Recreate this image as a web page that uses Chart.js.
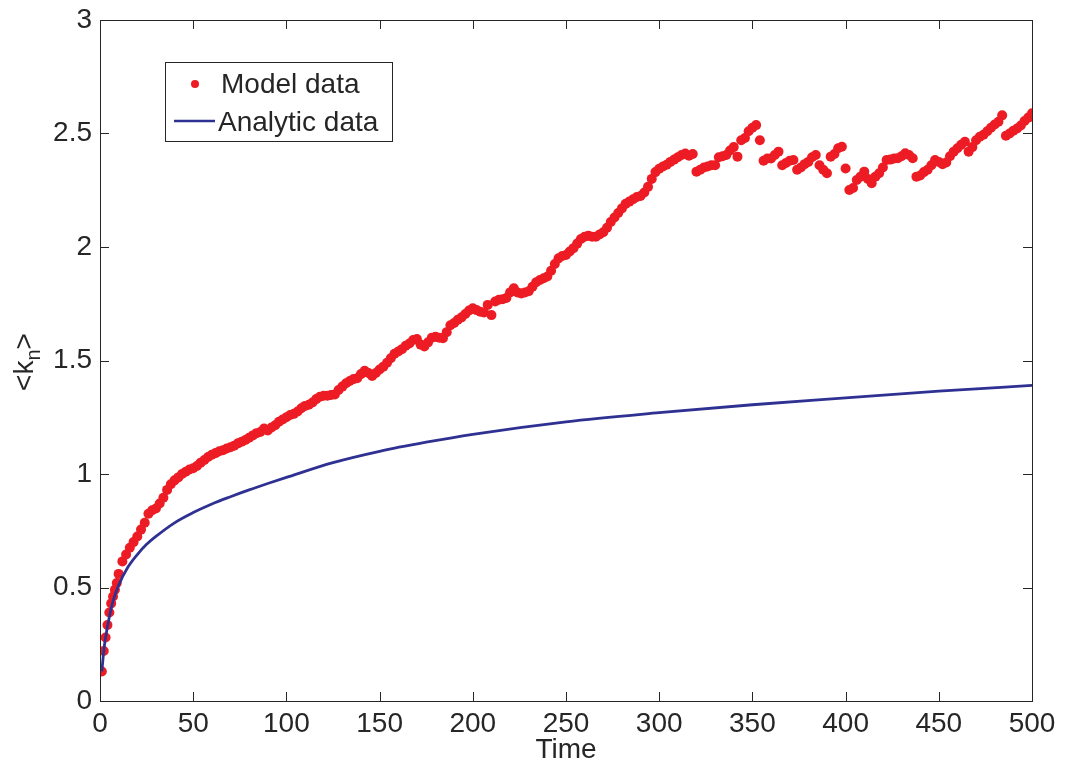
<!DOCTYPE html>
<html>
<head>
<meta charset="utf-8">
<title>Model vs analytic</title>
<script src="https://cdn.jsdelivr.net/npm/chart.js@4.4.1/dist/chart.umd.min.js"></script>
<style>
  html, body { margin: 0; padding: 0; background: #fff; }
  #wrap { width: 1067px; height: 767px; }
</style>
</head>
<body>
<div id="wrap"><canvas id="knChart"></canvas></div>
<script>
// model points (every unit up to 10, then every 2 units)
const modelTimes = [
  1, 2, 3, 4, 5, 6, 7, 8, 9, 10,
  12, 14, 16, 18, 20, 22, 24, 26, 28, 30, 32, 34, 36, 38, 40, 42, 44, 46, 48, 50,
  52, 54, 56, 58, 60, 62, 64, 66, 68, 70, 72, 74, 76, 78, 80, 82, 84, 86, 88, 90,
  92, 94, 96, 98, 100, 102, 104, 106, 108, 110, 112, 114, 116, 118, 120, 122, 124, 126, 128, 130,
  132, 134, 136, 138, 140, 142, 144, 146, 148, 150, 152, 154, 156, 158, 160, 162, 164, 166, 168, 170,
  172, 174, 176, 178, 180, 182, 184, 186, 188, 190, 192, 194, 196, 198, 200, 202, 204, 206, 208, 210,
  212, 214, 216, 218, 220, 222, 224, 226, 228, 230, 232, 234, 236, 238, 240, 242, 244, 246, 248, 250,
  252, 254, 256, 258, 260, 262, 264, 266, 268, 270, 272, 274, 276, 278, 280, 282, 284, 286, 288, 290,
  292, 294, 296, 298, 300, 302, 304, 306, 308, 310, 312, 314, 316, 318, 320, 322, 324, 326, 328, 330,
  332, 334, 336, 338, 340, 342, 344, 346, 348, 350, 352, 354, 356, 358, 360, 362, 364, 366, 368, 370,
  372, 374, 376, 378, 380, 382, 384, 386, 388, 390, 392, 394, 396, 398, 400, 402, 404, 406, 408, 410,
  412, 414, 416, 418, 420, 422, 424, 426, 428, 430, 432, 434, 436, 438, 440, 442, 444, 446, 448, 450,
  452, 454, 456, 458, 460, 462, 464, 466, 468, 470, 472, 474, 476, 478, 480, 482, 484, 486, 488, 490,
  492, 494, 496, 498, 500
];
const modelValues = [
  0.13, 0.22, 0.28, 0.335, 0.39, 0.43, 0.46, 0.49, 0.52, 0.56,
  0.615, 0.645, 0.675, 0.70, 0.725, 0.755, 0.785, 0.825, 0.84, 0.848, 0.87, 0.895, 0.93, 0.955, 0.972, 0.985, 1.0, 1.01, 1.02, 1.025,
  1.035, 1.05, 1.062, 1.075, 1.085, 1.092, 1.10, 1.105, 1.112, 1.118, 1.125, 1.135, 1.142, 1.15, 1.16, 1.17, 1.18, 1.185, 1.20, 1.192,
  1.205, 1.215, 1.23, 1.24, 1.25, 1.26, 1.265, 1.275, 1.29, 1.30, 1.305, 1.315, 1.33, 1.34, 1.345, 1.345, 1.348, 1.35, 1.37, 1.385,
  1.40, 1.41, 1.418, 1.422, 1.44, 1.455, 1.445, 1.432, 1.445, 1.46, 1.473, 1.49, 1.51, 1.53, 1.54, 1.55, 1.565, 1.575, 1.59, 1.595,
  1.57, 1.562, 1.58, 1.60, 1.605, 1.60, 1.598, 1.625, 1.655, 1.665, 1.68, 1.69, 1.705, 1.72, 1.73, 1.722, 1.715, 1.712, 1.745, 1.70,
  1.76, 1.768, 1.77, 1.775, 1.80, 1.818, 1.80, 1.795, 1.80, 1.805, 1.825, 1.845, 1.855, 1.862, 1.87, 1.895, 1.925, 1.95, 1.96, 1.965,
  1.98, 1.995, 2.015, 2.035, 2.045, 2.05, 2.045, 2.045, 2.055, 2.065, 2.085, 2.11, 2.13, 2.15, 2.17, 2.19, 2.20, 2.21, 2.22, 2.225,
  2.24, 2.265, 2.30, 2.33, 2.345, 2.355, 2.362, 2.375, 2.385, 2.395, 2.405, 2.412, 2.402, 2.41, 2.332, 2.34, 2.35, 2.355, 2.36, 2.36,
  2.395, 2.40, 2.405, 2.425, 2.44, 2.398, 2.47, 2.48, 2.51, 2.525, 2.537, 2.47, 2.38, 2.39, 2.39, 2.405, 2.42, 2.36, 2.37, 2.38,
  2.383, 2.34, 2.35, 2.365, 2.375, 2.395, 2.405, 2.36, 2.34, 2.325, 2.398, 2.41, 2.435, 2.442, 2.346, 2.251, 2.26, 2.295, 2.31, 2.332,
  2.30, 2.281, 2.31, 2.325, 2.35, 2.383, 2.385, 2.39, 2.391, 2.40, 2.413, 2.405, 2.391, 2.31, 2.315, 2.33, 2.34, 2.36, 2.383, 2.375,
  2.365, 2.372, 2.40, 2.42, 2.435, 2.45, 2.464, 2.42, 2.44, 2.47, 2.486, 2.495, 2.51, 2.525, 2.54, 2.552, 2.58, 2.49, 2.50, 2.512,
  2.522, 2.535, 2.555, 2.57, 2.589
];

// analytic curve, sampled off the figure
const analyticTimes = [1, 2, 3, 5, 7, 10, 15, 20, 25, 30, 40, 50, 60, 70, 80, 90, 100, 125, 150, 175, 200, 250, 300, 350, 400, 450, 500];
const analyticValues = [0.13, 0.22, 0.28, 0.37, 0.44, 0.51, 0.59, 0.645, 0.69, 0.725, 0.785, 0.83, 0.868, 0.90, 0.93, 0.958, 0.985, 1.05, 1.1, 1.14, 1.175, 1.23, 1.27, 1.305, 1.335, 1.365, 1.39];

const xTicks = [0, 50, 100, 150, 200, 250, 300, 350, 400, 450, 500];
const yTicks = [0, 0.5, 1, 1.5, 2, 2.5, 3];

const RED = '#ed1c24';
const BLUE = '#2e3192';
const INK = '#262626';
const FONT = '"Liberation Sans", Arial, Helvetica, sans-serif';
const FS = 28;

const modelPoints = modelTimes.map((t, i) => ({ x: t, y: modelValues[i] }));
const analyticPoints = analyticTimes.map((t, i) => ({ x: t, y: analyticValues[i] }));

// box + inward ticks on all four sides, legend box and <k_n> label
const matlabFrame = {
  id: 'matlabFrame',
  afterDraw(chart) {
    const { ctx, chartArea: a, scales: { x, y } } = chart;
    const len = 9;
    ctx.save();
    ctx.strokeStyle = INK;
    ctx.lineWidth = 1;
    ctx.strokeRect(Math.round(a.left) + 0.5, Math.round(a.top) + 0.5,
      Math.round(a.right - a.left), Math.round(a.bottom - a.top));
    ctx.beginPath();
    xTicks.forEach(v => {
      const px = Math.round(x.getPixelForValue(v)) + 0.5;
      ctx.moveTo(px, a.bottom); ctx.lineTo(px, a.bottom - len);
      ctx.moveTo(px, a.top); ctx.lineTo(px, a.top + len);
    });
    yTicks.forEach(v => {
      const py = Math.round(y.getPixelForValue(v)) + 0.5;
      ctx.moveTo(a.left, py); ctx.lineTo(a.left + len, py);
      ctx.moveTo(a.right, py); ctx.lineTo(a.right - len, py);
    });
    ctx.stroke();

    // legend
    const lx = 165, ly = 62, lw = 227, lh = 79;
    ctx.fillStyle = '#fff';
    ctx.fillRect(lx, ly, lw, lh);
    ctx.strokeStyle = INK;
    ctx.strokeRect(lx + 0.5, ly + 0.5, lw, lh);
    ctx.fillStyle = RED;
    ctx.beginPath();
    ctx.arc(195, 84, 4, 0, Math.PI * 2);
    ctx.fill();
    ctx.strokeStyle = BLUE;
    ctx.lineWidth = 2.5;
    ctx.beginPath();
    ctx.moveTo(174, 121); ctx.lineTo(215, 121);
    ctx.stroke();
    ctx.fillStyle = INK;
    ctx.font = FS + 'px ' + FONT;
    ctx.textBaseline = 'alphabetic';
    ctx.textAlign = 'left';
    ctx.fillText(chart.data.datasets[0].label, 221, 93);
    ctx.fillText(chart.data.datasets[1].label, 218, 131);

    // y title with subscript
    ctx.translate(33, 362);
    ctx.rotate(-Math.PI / 2);
    const big = FS + 'px ' + FONT, small = '20px ' + FONT;
    ctx.font = big;
    const w1 = ctx.measureText('<k').width;
    const w3 = ctx.measureText('>').width;
    ctx.font = small;
    const w2 = ctx.measureText('n').width;
    let cx = -(w1 + w2 + w3) / 2;
    ctx.font = big;
    ctx.fillText('<k', cx, 0);
    cx += w1;
    ctx.font = small;
    ctx.fillText('n', cx, 7);
    cx += w2;
    ctx.font = big;
    ctx.fillText('>', cx, 0);
    ctx.restore();
  }
};

new Chart(document.getElementById('knChart'), {
  type: 'scatter',
  data: {
    datasets: [{
      label: 'Model data',
      data: modelPoints,
      showLine: false,
      pointRadius: 5,
      pointBorderWidth: 0,
      pointBackgroundColor: RED,
      borderColor: RED,
      order: 1
    }, {
      label: 'Analytic data',
      data: analyticPoints,
      showLine: true,
      pointRadius: 0,
      borderColor: BLUE,
      borderWidth: 2.8,
      cubicInterpolationMode: 'monotone',
      order: 0
    }]
  },
  options: {
    responsive: true,
    maintainAspectRatio: false,
    animation: false,
    layout: { padding: { left: 0, top: 20, right: 35, bottom: 0 } },
    plugins: { legend: { display: false }, tooltip: { enabled: false } },
    scales: {
      x: {
        type: 'linear',
        min: 0,
        max: 500,
        afterBuildTicks: s => { s.ticks = xTicks.map(v => ({ value: v })); },
        afterFit: s => { s.height = 66; s.paddingLeft = 0; s.paddingRight = 0; },
        grid: { display: false, drawTicks: false },
        border: { display: false },
        ticks: { color: INK, font: { family: FONT, size: FS }, padding: 6, maxRotation: 0, callback: v => String(v) },
        title: { display: true, text: 'Time', color: INK, font: { family: FONT, size: FS }, padding: { top: 0, bottom: 0 } }
      },
      y: {
        type: 'linear',
        min: 0,
        max: 3,
        afterBuildTicks: s => { s.ticks = yTicks.map(v => ({ value: v })); },
        afterFit: s => { s.width = 100; s.paddingTop = 0; s.paddingBottom = 0; },
        grid: { display: false, drawTicks: false },
        border: { display: false },
        ticks: { color: INK, font: { family: FONT, size: FS }, padding: 8, callback: v => String(v) }
      }
    }
  },
  plugins: [matlabFrame]
});
</script>
</body>
</html>
